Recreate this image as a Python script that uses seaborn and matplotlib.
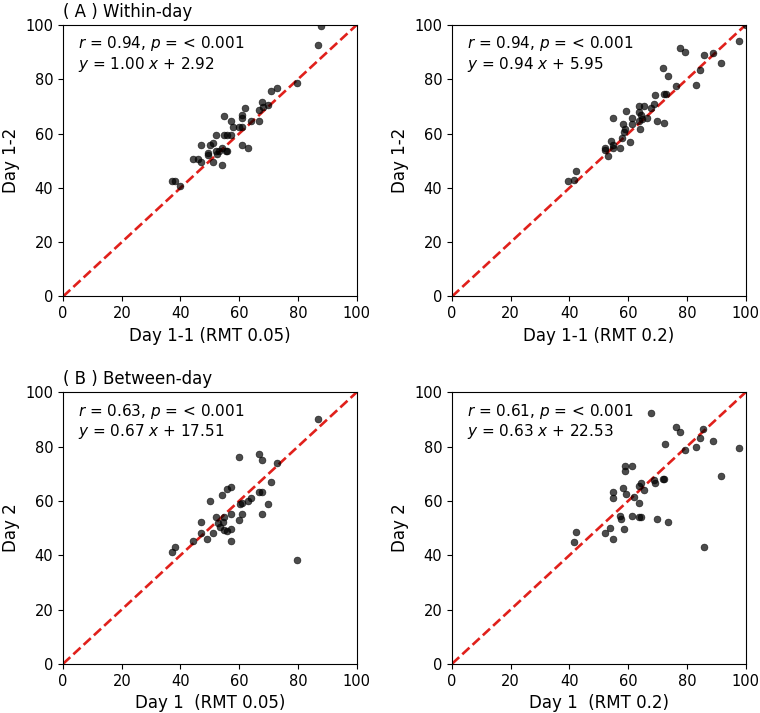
import matplotlib
matplotlib.use("Agg")
import matplotlib.pyplot as plt
import seaborn as sns
import pandas as pd

# (A) within-day, RMT 0.05
a1_x = [88.0, 86.9, 79.8, 73.0, 71.0, 69.9, 67.8, 68.2, 66.8, 66.8, 64.0, 61.9, 60.8, 60.8,
        60.0, 60.8, 58.0, 57.1, 54.9, 52.1, 54.9, 56.0, 57.1, 60.8, 63.1, 47.0, 50.1, 51.2,
        49.2, 49.2, 52.1, 54.2, 53.2, 55.4, 56.0, 52.3, 51.2, 54.0, 44.1, 45.9, 47.0, 37.0,
        38.2, 39.9]
a1_y = [99.5, 92.7, 78.6, 76.7, 75.5, 70.6, 71.6, 69.8, 68.5, 64.5, 64.5, 69.5, 66.7, 65.7,
        62.4, 62.4, 62.4, 64.5, 66.5, 59.6, 59.6, 59.6, 59.6, 55.7, 54.5, 55.7, 55.7, 56.5,
        53.0, 52.0, 53.5, 54.5, 53.5, 53.5, 53.5, 52.3, 49.6, 48.6, 50.6, 50.6, 49.6, 42.6,
        42.6, 40.6]

# (A) within-day, RMT 0.2
a2_x = [100.0, 97.7, 77.6, 79.5, 86.0, 88.8, 91.7, 84.4, 83.1, 71.8, 73.6, 76.3, 69.3, 72.1,
        72.9, 68.7, 67.8, 65.3, 63.6, 63.6, 64.4, 66.5, 64.8, 63.6, 61.4, 61.2, 59.3, 54.9,
        58.2, 58.8, 58.6, 63.9, 69.9, 72.1, 57.8, 60.8, 54.0, 54.8, 52.0, 52.0, 54.9, 57.1,
        53.2, 42.1, 39.5, 41.6]
a2_y = [100.0, 94.0, 91.6, 90.0, 89.1, 89.7, 86.0, 83.3, 78.0, 84.1, 81.2, 77.4, 74.1, 74.4,
        74.4, 71.0, 69.4, 70.0, 70.0, 67.9, 66.7, 65.7, 65.5, 64.5, 65.7, 63.6, 68.2, 65.7,
        63.4, 61.8, 60.6, 61.6, 64.5, 64.0, 58.5, 56.9, 57.2, 55.7, 54.7, 53.9, 54.5, 54.5,
        51.7, 46.1, 42.6, 42.8]

# (B) between-day, RMT 0.05
b1_x = [86.9, 60.0, 66.8, 67.8, 72.9, 70.8, 66.8, 67.8, 69.9, 67.8, 57.1, 56.0, 54.0, 50.1,
        64.0, 62.9, 60.8, 60.2, 60.8, 60.0, 57.1, 52.0, 54.9, 54.6, 52.9, 53.5, 54.9, 56.0,
        57.1, 47.0, 47.0, 51.0, 48.9, 44.1, 57.1, 37.0, 38.2, 79.8]
b1_y = [90.1, 76.2, 77.2, 75.2, 74.1, 67.0, 63.1, 63.1, 59.0, 55.0, 65.2, 64.2, 62.1, 60.0,
        61.1, 60.0, 59.4, 58.8, 55.0, 53.1, 55.0, 54.1, 54.1, 52.3, 51.7, 50.4, 49.4, 49.0,
        49.8, 52.3, 48.2, 48.2, 46.1, 45.3, 45.2, 41.2, 43.1, 38.2]

# (B) between-day, RMT 0.2
b2_x = [67.8, 76.3, 77.8, 85.4, 84.4, 88.8, 83.1, 79.5, 97.6, 72.7, 91.7, 58.8, 61.4, 58.9,
        68.7, 69.3, 71.8, 72.1, 64.4, 63.6, 65.3, 58.2, 59.3, 54.9, 54.9, 61.9, 63.6, 57.1,
        57.4, 61.4, 63.6, 64.5, 69.9, 73.6, 53.8, 52.0, 58.6, 54.9, 42.1, 41.6, 86.0]
b2_y = [92.5, 87.2, 85.3, 86.5, 83.2, 82.1, 79.9, 78.7, 79.6, 81.1, 69.2, 72.7, 72.7, 70.9,
        67.8, 66.6, 68.1, 68.1, 66.7, 65.5, 63.9, 64.8, 62.5, 63.3, 60.9, 61.5, 59.3, 54.6,
        53.4, 54.5, 54.2, 54.2, 53.3, 52.4, 50.0, 48.2, 49.8, 46.0, 48.7, 44.8, 43.1]

panels = [
    (a1_x, a1_y, "Day 1-1 (RMT 0.05)", "Day 1-2", "$r$ = 0.94, $p$ = < 0.001\n$y$ = 1.00 $x$ + 2.92", "( A ) Within-day"),
    (a2_x, a2_y, "Day 1-1 (RMT 0.2)", "Day 1-2", "$r$ = 0.94, $p$ = < 0.001\n$y$ = 0.94 $x$ + 5.95", None),
    (b1_x, b1_y, "Day 1  (RMT 0.05)", "Day 2", "$r$ = 0.63, $p$ = < 0.001\n$y$ = 0.67 $x$ + 17.51", "( B ) Between-day"),
    (b2_x, b2_y, "Day 1  (RMT 0.2)", "Day 2", "$r$ = 0.61, $p$ = < 0.001\n$y$ = 0.63 $x$ + 22.53", None),
]

fig, axes = plt.subplots(2, 2, figsize=(7.6, 7.13), dpi=100)
fig.subplots_adjust(left=0.083, right=0.981, top=0.965, bottom=0.069, wspace=0.325, hspace=0.353)

for ax, (xs, ys, xlab, ylab, stats, title) in zip(axes.flat, panels):
    df = pd.DataFrame({'x': xs, 'y': ys})
    ax.plot([0, 100], [0, 100], color='#e0201b', linestyle='--', linewidth=1.9, zorder=1)
    sns.scatterplot(data=df, x='x', y='y', ax=ax, color='black', alpha=0.7, s=24,
                    edgecolor='black', linewidth=0.5, zorder=2)
    ax.set_xlim(0, 100)
    ax.set_ylim(0, 100)
    ax.set_xticks(range(0, 101, 20))
    ax.set_yticks(range(0, 101, 20))
    ax.tick_params(labelsize=10.5)
    ax.set_xlabel(xlab, fontsize=12)
    ax.set_ylabel(ylab, fontsize=12)
    ax.text(0.05, 0.965, stats, transform=ax.transAxes, va='top', ha='left', fontsize=11,
            linespacing=1.1)
    if title:
        ax.set_title(title, loc='left', fontsize=12)

plt.savefig('out.png', dpi=100)
plt.close()
